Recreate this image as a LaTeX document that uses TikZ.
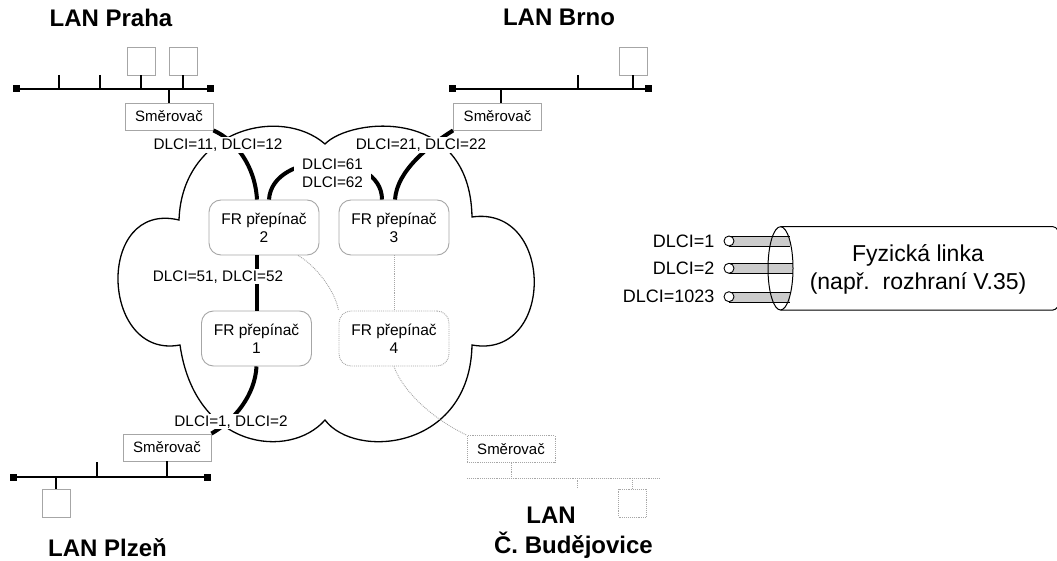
\documentclass[tikz,border=0pt]{standalone}
\usepackage{fontspec}
\setmainfont{Liberation Sans}
\usetikzlibrary{positioning}

\begin{document}
\begin{tikzpicture}[x=1pt,y=-1pt,
    lantitle/.style={font=\fontsize{24}{28}\selectfont\bfseries, inner sep=0pt, anchor=base},
    router/.style={draw=gray!70, line width=0.9pt, fill=white, minimum width=88pt, minimum height=27pt,
      inner sep=0pt, text height=10.7pt, text depth=0pt, font=\fontsize{15}{18}\selectfont},
    frswitch/.style={draw=gray!70, line width=0.9pt, fill=white, rounded corners=12pt, minimum width=110pt,
      minimum height=55pt, inner sep=0pt, align=center, font=\fontsize{15.5}{18}\selectfont},
    pc/.style={draw=gray!70, line width=0.9pt, fill=white, minimum size=28pt, inner sep=0pt},
    term/.style={fill=black, minimum size=7pt, inner sep=0pt},
    bus/.style={line width=1.6pt},
    dlci/.style={fill=white, inner sep=1.5pt, anchor=base, font=\fontsize{15.3}{18}\selectfont},
    dlcir/.style={inner sep=0pt, font=\fontsize{18}{21}\selectfont},
    vclink/.style={line width=4pt},
    future/.style={draw=gray!70, densely dotted, line width=0.9pt},
    cloud/.style={line width=1.3pt},
    wire/.style={fill=gray!40},
    wireend/.style={circle, draw, fill=white, minimum size=10pt, inner sep=0pt, line width=0.9pt},
  ]

  \useasboundingbox (0,0) rectangle (1057,561);
  \clip (0,0) rectangle (1057,561);

  \draw[cloud] (179,220) .. controls (182,130) and (280,105) .. (325,144)
    .. controls (350,118) and (470,105) .. (472,217)
    .. controls (555,205) and (555,360) .. (472,345)
    .. controls (470,450) and (355,460) .. (325,420)
    .. controls (290,460) and (195,450) .. (180,345)
    .. controls (100,360) and (95,200) .. cycle;

  \node[lantitle] (tpraha) at (111,27)    {LAN Praha};
  \node[lantitle] (tbrno)  at (559,26)    {LAN Brno};
  \node[lantitle] (tplzen) at (107.5,556) {LAN Plzeň};
  \node[lantitle] (tcb1)   at (551,523)   {LAN};
  \node[lantitle] (tcb2)   at (573.5,553) {Č. Budějovice};

  \node[term] (p1) at (16,89)  {};
  \node[term] (p2) at (210,89) {};
  \node[pc] (ppc1) at (141,61) {};
  \node[pc] (ppc2) at (183,61) {};
  \coordinate (pt1) at (59,75);
  \coordinate (pt2) at (100,75);
  \node[router] (rp) at (169,116.5) {Směrovač};
  \draw[bus] (p1.center) -- (p2.center) (pt1) -- (pt1 |- p1) (pt2) -- (pt2 |- p1)
    (ppc1) -- (ppc1 |- p1) (ppc2) -- (ppc2 |- p1) (rp) -- (rp |- p1);

  \node[term] (b1) at (452,89) {};
  \node[term] (b2) at (648,89) {};
  \node[pc] (bpc1) at (633,61) {};
  \coordinate (bt1) at (578,75);
  \node[router] (rb) at (497.5,116.5) {Směrovač};
  \draw[bus] (b1.center) -- (b2.center) (bt1) -- (bt1 |- b1) (bpc1) -- (bpc1 |- b1)
    ([xshift=3.5pt]rb.north) -- ([xshift=3.5pt]rb.north |- b1);

  \node[term] (z1) at (13,477)  {};
  \node[term] (z2) at (207,477) {};
  \node[pc] (zpc1) at (56,503) {};
  \coordinate (zt1) at (97,462);
  \node[router] (rz) at (167,447.5) {Směrovač};
  \draw[bus] (z1.center) -- (z2.center) (zt1) -- (zt1 |- z1) (zpc1) -- (zpc1 |- z1) (rz) -- (rz |- z1);

  \coordinate (c1) at (467,478);
  \coordinate (c2) at (660,478);
  \coordinate (ct1) at (577,488);
  \node[pc, future] (cpc1) at (632.5,503) {};
  \node[router, future] (rc) at (511,449) {Směrovač};
  \draw[future] (c1) -- (c2) (ct1) -- (ct1 |- c1) (cpc1) -- (cpc1 |- c1) (rc) -- (rc |- c1);

  \node[frswitch] (fr2) at (264,227.5) {FR přepínač\\2};
  \node[frswitch] (fr3) at (394,227.5) {FR přepínač\\3};
  \node[frswitch] (fr1) at (256.5,338.5) {FR přepínač\\1};
  \node[frswitch, future] (fr4) at (394,338.5) {FR přepínač\\4};

  \draw[vclink] (rp.south east) .. controls (235,140) and (255,165) .. ([xshift=-7pt]fr2.north);
  \draw[vclink] (rb.south west) .. controls (430,145) and (397,170) .. ([xshift=1pt]fr3.north);
  \draw[vclink] ([xshift=5pt]fr2.north) .. controls (272,150) and (382,150) .. ([xshift=-12pt]fr3.north);
  \draw[vclink] (fr1.north) -- (fr1.north |- fr2.south);
  \draw[vclink] (fr1.south) .. controls (255,395) and (235,420) .. (rz.north east);

  \draw[future] ([xshift=34pt]fr2.south) .. controls (315,265) and (335,290) .. (fr4.north west);
  \path (fr3) edge[future] (fr4);
  \draw[future] (fr4.south) .. controls (400,385) and (425,415) .. (rc.north west);

  \node[dlci] (d1) at (218,149.5) {DLCI=11, DLCI=12};
  \node[dlci] (d2) at (421,149.5) {DLCI=21, DLCI=22};
  \node[dlci, anchor=west, align=left, inner xsep=8pt, inner ysep=3pt] (d6) at (294,173.7) {DLCI=61\\DLCI=62};
  \node[dlci] (d5) at (218,281) {DLCI=51, DLCI=52};
  \node[dlci] (d0) at (231,426) {DLCI=1, DLCI=2};

  \draw[fill=white, line width=1pt] (780.5,226.7) -- (1053,226.7)
    arc[start angle=-90, end angle=90, x radius=12.5, y radius=41.65] -- (780.5,310);
  \fill[wire] (729,236) rectangle (790,246);
  \fill[wire] (729,263.3) rectangle (793,273.3);
  \fill[wire] (729,291.7) rectangle (790,301.7);
  \draw (729,236) -- (790,236) (729,246) -- (790,246)
    (729,263.3) -- (793,263.3) (729,273.3) -- (793,273.3)
    (729,291.7) -- (790,291.7) (729,301.7) -- (790,301.7);
  \node[wireend] (w1) at (729,241) {};
  \node[wireend] (w2) at (729,268.3) {};
  \node[wireend] (w3) at (729,296.7) {};
  \draw[line width=1pt] (780.5,268.35) ellipse [x radius=12.5, y radius=41.65];

  \node[dlcir, left=9pt of w1] (l1) {DLCI=1};
  \node[dlcir, left=9pt of w2] (l2) {DLCI=2};
  \node[dlcir, left=9pt of w3] (l3) {DLCI=1023};
  \node[align=center, font=\fontsize{23}{28}\selectfont] (fyz) at (918,269) {Fyzická linka\\(např.~~rozhraní V.35)};

\end{tikzpicture}
\end{document}
